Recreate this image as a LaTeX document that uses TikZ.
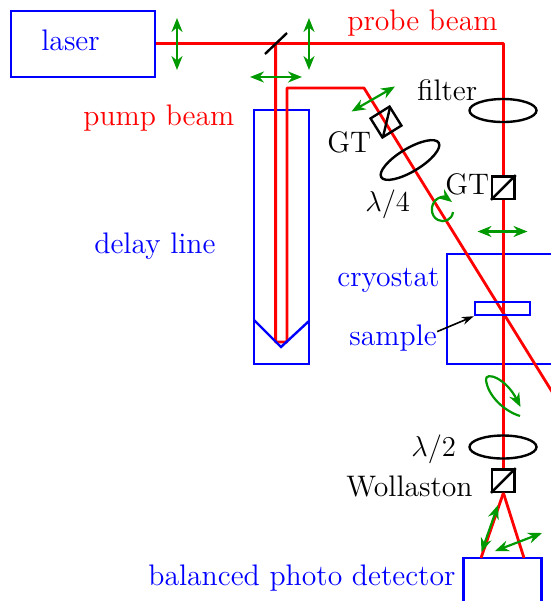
\documentclass[tikz,border=0pt]{standalone}
\usepackage{fontspec}
\usetikzlibrary{arrows.meta,calc,shapes.geometric}
\definecolor{optgreen}{RGB}{0,153,0}
\tikzset{
  x=0.5pt,y=-0.5pt,
  every node/.style={font=\fontsize{14.85}{17}\selectfont,inner sep=0pt},
  lbl/.style={anchor=base west},
  bluelbl/.style={lbl,text=blue},
  redlbl/.style={lbl,text=red},
  beam/.style={draw=red,line width=1.4pt,line join=round},
  box/.style={draw=blue,line width=1.2pt},
  optic/.style={draw=black,line width=1.2pt},
  lens/.style={optic,ellipse,minimum width=33.5pt,minimum height=11.5pt},
  pol/.style={draw=optgreen,line width=1.1pt,{Stealth[length=7pt,width=5.5pt]}-{Stealth[length=7pt,width=5.5pt]}},
  rot/.style={draw=optgreen,line width=1.1pt,-{Stealth[length=7pt,width=5.5pt]}}
}
\begin{document}
\begin{tikzpicture}
\useasboundingbox (0,0) rectangle (551,601);
\clip (0,0) rectangle (551,601);
% named points
\coordinate (split) at (275.6,43.6);
\coordinate (corner) at (503.4,43.6);
\coordinate (dl1) at (275.6,342);
\coordinate (dl2) at (287,342);
\coordinate (top2) at (287,88);
\coordinate (top3) at (364,88);
\coordinate (exit) at (555,396.5);
\coordinate (detL) at (481,558);
\coordinate (detR) at (524,558);
\coordinate (vl) at (254,320);
\coordinate (vm) at (281,347);
\coordinate (vr) at (309,321);
% boxes
\node[box,minimum width=72pt,minimum height=33pt] (laser) at (83,44) {};
\node[box,minimum width=27.5pt,minimum height=127pt] (delay) at (281.5,237) {};
\node[box,minimum width=60pt,minimum height=55pt] (cryo) at (507,309) {};
\node[box,minimum width=39pt,minimum height=24pt] (det) at (502.5,582) {};
% beams
\node[optic,minimum size=11.2pt] (gtr) at (503.4,187.5) {};
\node[optic,minimum size=11.2pt] (woll) at (503.4,480.5) {};
\draw[beam] (laser.east |- split) -- (split) -- (corner) -- (gtr.north);
\draw[beam] (gtr.south) -- (woll.north);
\draw[beam] (split) -- (dl1) -- (dl2) -- (top2) -- (top3) -- (exit);
\draw[beam] (woll.south) -- (detL);
\draw[beam] (woll.south) -- (detR);
\draw[box] (vl) -- (vm) -- (vr);
\node[box,minimum width=27.5pt,minimum height=6.5pt] (sample) at (502.5,308.5) {};
% optics on top
\draw[optic] (gtr.south west) -- (gtr.north east);
\draw[optic] (woll.south west) -- (woll.north east);
\draw[optic] (265,54) -- (287,33);
\node[optic,minimum size=11.2pt,rotate=32] (gtl) at (386,122) {};
\draw[optic] (390,107.5) -- (383,137);
\node[lens,rotate=31] (qwp) at (410,160) {};
\node[lens] (filter) at (503,110.5) {};
\node[lens] (hwp) at (503,447) {};
% polarisation arrows
\draw[pol] (177,18) -- (177,70);
\draw[pol] (309,18) -- (309,70);
\draw[pol] (250,77) -- (302,77);
\draw[pol] (351.5,111.5) -- (395,86.5);
\draw[pol] (477.5,231.5) -- (527.5,231.5);
\draw[pol] (498,505) -- (481.5,552);
\draw[pol] (495,551) -- (542,533);
\draw[rot] (453,212) .. controls (452,220) and (444,223) .. (438,220) .. controls (430,216) and (430,204) .. (437,199) .. controls (440,197) and (444,196) .. (452,202);
\draw[rot] (520,416) .. controls (504,411) and (488,396) .. (486,380) .. controls (485,371) and (506,378) .. (520.5,407);
% labels
\node[bluelbl] at (41,50) {laser};
\node[redlbl] at (347,30) {probe beam};
\node[redlbl] at (83,125) {pump beam};
\node[bluelbl] at (94,253) {delay line};
\node[lbl] at (327,152) {GT};
\node[lbl] at (365,211) {$\lambda/4$};
\node[lbl] at (417,100) {filter};
\node[lbl] at (445,194) {GT};
\node[bluelbl] at (337,286) {cryostat};
\node[bluelbl] (samplelbl) at (349,345) {sample};
\node[lbl] at (411,456) {$\lambda/2$};
\node[lbl] at (346,496) {Wollaston};
\node[bluelbl] at (148,585) {balanced photo detector};
\draw[line width=0.8pt,-{Stealth[length=6pt,width=4pt]}] ($(samplelbl.east)+(0,-6)$) -- (sample.south west);
\end{tikzpicture}
\end{document}
